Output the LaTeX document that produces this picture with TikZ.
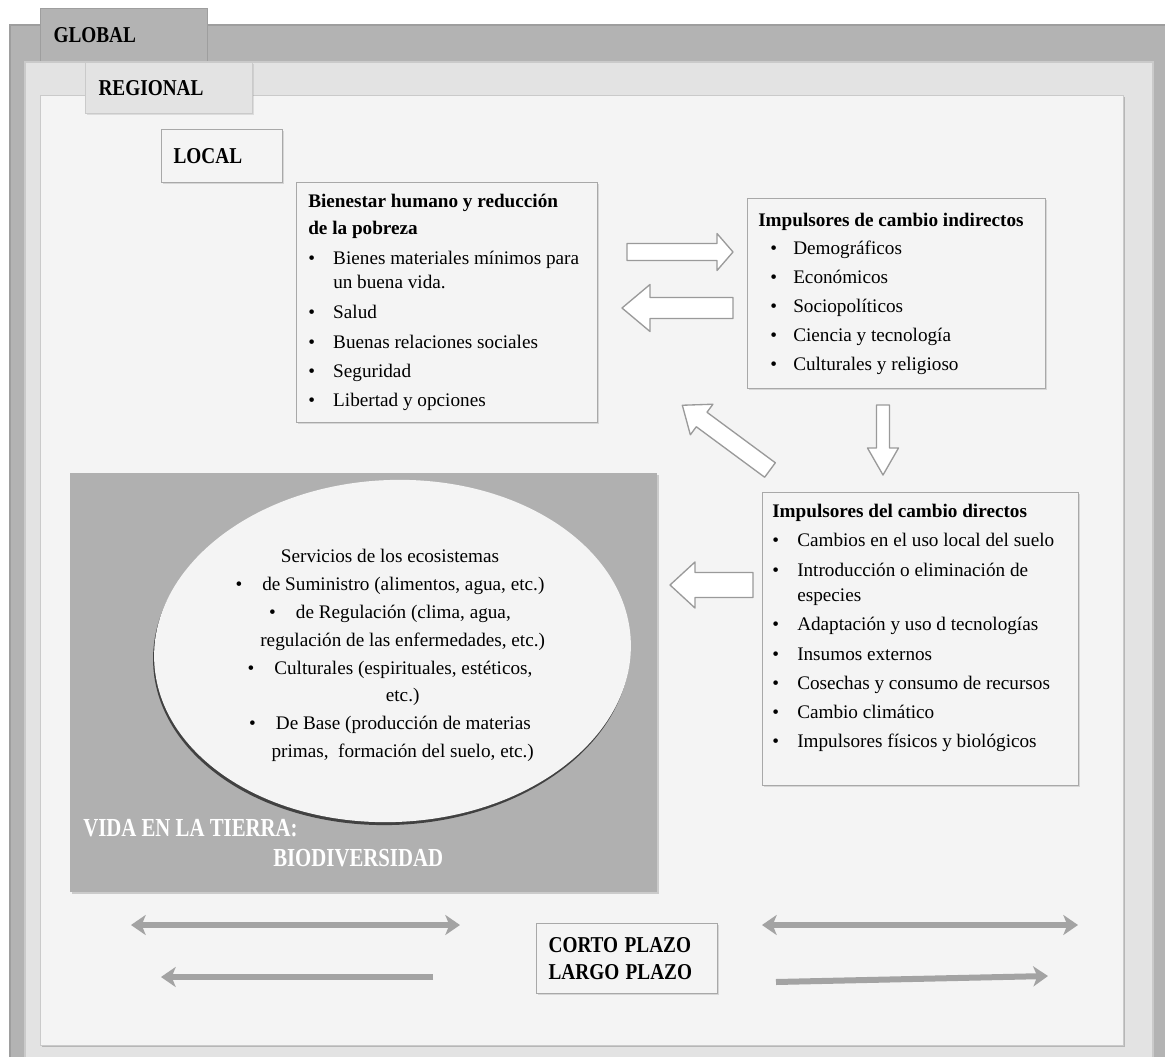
\documentclass[tikz,border=0pt]{standalone}
\usepackage{fontspec}
\setmainfont{Liberation Serif}
\usepackage{graphicx}
\usetikzlibrary{shapes.geometric,arrows.meta,shadows}

\definecolor{outerg}{HTML}{B3B3B3}
\definecolor{outeredge}{HTML}{9E9E9E}
\definecolor{regg}{HTML}{E3E3E3}
\definecolor{regedge}{HTML}{CACACA}
\definecolor{innerg}{HTML}{F4F4F4}
\definecolor{boxedge}{HTML}{A8A8A8}
\definecolor{biog}{HTML}{B0B0B0}
\definecolor{arrg}{HTML}{A3A3A3}
\definecolor{barredge}{HTML}{9A9A9A}

\newcommand{\bul}{\makebox[18.75pt][l]{\textbullet}}
\newcommand{\cnd}[1]{\scalebox{0.85}[1]{#1}}

\tikzset{
  box/.style={draw=boxedge, line width=0.9pt, fill=innerg,
    drop shadow={shadow xshift=1.2pt, shadow yshift=-1.2pt, opacity=0.25}},
  wh/.style 2 args={minimum width=#1*0.75pt, minimum height=#2*0.75pt,
    inner sep=0pt, anchor=north west},
  txt/.style={anchor=north west, inner sep=0pt, align=left,
    font=\fontsize{14.4pt}{18.75pt}\selectfont},
  tabfont/.style={font=\fontsize{17pt}{20.25pt}\selectfont\bfseries, align=left},
  barr/.style={draw=barredge, line width=1pt, fill=white, line join=round},
  thinarrow/.style={draw=arrg, line width=4.5pt,
    >={Stealth[length=11pt,width=15pt,inset=3pt]}},
  pics/barrow/.style args={#1/#2/#3/#4}{code={
    \path[barr] (0,-#2) -- ({#1-#4},-#2) -- ({#1-#4},-#3) -- (#1,0)
      -- ({#1-#4},#3) -- ({#1-#4},#2) -- (0,#2) -- cycle;
  }},
}

\begin{document}
\begin{tikzpicture}[x=0.75pt,y=-0.75pt]
\useasboundingbox (0,0) rectangle (1165,1057);
\clip (0,0) rectangle (1165,1057);
\fill[white] (0,0) rectangle (1165,1057);

% frames
\path[fill=outerg, draw=outeredge, line width=0.8pt] (10,25) rectangle (1185,1090);
\node[wh={167}{54}, fill=outerg, draw=outeredge, line width=0.8pt,
  inner xsep=9.75pt, text width=105.75pt, tabfont] (global) at (40,8) {\cnd{GLOBAL}};
\path[fill=regg, draw=regedge, line width=0.8pt] (25,62) rectangle (1153,1090);
\path[fill=innerg, draw=regedge, line width=0.6pt,
  drop shadow={shadow xshift=1.2pt, shadow yshift=-1.5pt, opacity=0.45}] (40,95) rectangle (1123,1045);
\node[wh={167}{51}, fill=regg, draw=regedge, line width=0.8pt,
  drop shadow={shadow xshift=0.8pt, shadow yshift=-1pt, opacity=0.2},
  inner xsep=9.75pt, text width=105.75pt, tabfont] (regional) at (85,62) {\cnd{REGIONAL}};
\node[wh={121}{53}, box, inner xsep=9pt, text width=72.75pt, tabfont] (local) at (161,129) {\cnd{LOCAL}};

% Bienestar box
\node[wh={301}{240}, box] (bien) at (296,182) {};
\node[txt] (bientxt) at (308,194) {%
\textbf{Bienestar humano y reducción}\\[1.5pt]
\textbf{de la pobreza}\\[3.75pt]
\bul Bienes materiales mínimos para\\[-0.5pt]
\hspace*{18.75pt}un buena vida.\\[3.75pt]
\bul Salud\\[3.25pt]
\bul Buenas relaciones sociales\\[3.25pt]
\bul Seguridad\\[3.25pt]
\bul Libertad y opciones};

% Indirectos box
\node[wh={298}{190}, box] (ind) at (747,198) {};
\node[txt] (indtxt) at (758,213) {%
\textbf{Impulsores de cambio indirectos}\\[2.25pt]
\hspace*{9pt}\makebox[17.25pt][l]{\textbullet}Demográficos\\[3pt]
\hspace*{9pt}\makebox[17.25pt][l]{\textbullet}Económicos\\[3pt]
\hspace*{9pt}\makebox[17.25pt][l]{\textbullet}Sociopolíticos\\[3pt]
\hspace*{9pt}\makebox[17.25pt][l]{\textbullet}Ciencia y tecnología\\[3pt]
\hspace*{9pt}\makebox[17.25pt][l]{\textbullet}Culturales y religioso};

% Directos box
\node[wh={316}{293}, box] (dir) at (762,492) {};
\node[txt] (dirtxt) at (772,504) {%
\textbf{Impulsores del cambio directos}\\[3pt]
\bul Cambios en el uso local del suelo\\[3.75pt]
\bul Introducción o eliminación de\\
\hspace*{18.75pt}especies\\[3pt]
\bul Adaptación y uso d tecnologías\\[3.5pt]
\bul Insumos externos\\[3.5pt]
\bul Cosechas y consumo de recursos\\[3pt]
\bul Cambio climático\\[3pt]
\bul Impulsores físicos y biológicos};

% Biodiversity block
\node[wh={587}{419}, fill=biog,
  drop shadow={shadow xshift=1pt, shadow yshift=-1.5pt, opacity=0.35}] (bio) at (70,473) {};
\node[ellipse, draw=none, fill=innerg, minimum width=357.75pt, minimum height=256.5pt,
  inner sep=0pt, rotate=2.5,
  drop shadow={shadow xshift=-0.8pt, shadow yshift=-2.2pt, opacity=0.8, fill=black!85}] (eco) at (392.5,651) {};
\node[anchor=north, inner sep=0pt, align=center,
  font=\fontsize{14.4pt}{20.9pt}\selectfont] (ecotxt) at (390,549) {%
Servicios de los ecosistemas\\
\textbullet\hspace{15pt}de Suministro (alimentos, agua, etc.)\\
\textbullet\hspace{15pt}de Regulación (clima, agua,\\
\hspace*{19pt}regulación de las enfermedades, etc.)\\
\textbullet\hspace{15pt}Culturales (espirituales, estéticos,\\
\hspace*{19pt}etc.)\\
\textbullet\hspace{15pt}De Base (producción de materias\\
\hspace*{19pt}primas,\ \ formación del suelo, etc.)};
\node[anchor=north west, inner sep=0pt, text=white,
  font=\fontsize{19.5pt}{20pt}\selectfont\bfseries] (vida) at (83,819) {\scalebox{0.8}[1]{VIDA EN LA TIERRA:}};
\node[anchor=north west, inner sep=0pt, text=white,
  font=\fontsize{19.5pt}{20pt}\selectfont\bfseries] (biodiv) at (273,849) {\scalebox{0.8}[1]{BIODIVERSIDAD}};

% Time box
\node[wh={181}{70}, box, inner xsep=9pt, text width=117.75pt, tabfont] (plazo) at (536,923)
  {\cnd{CORTO PLAZO}\\\cnd{LARGO PLAZO}};

% block arrows
\coordinate (ar1s) at (627,252);
\coordinate (ar2s) at (733,308);
\coordinate (ar3s) at (883,405);
\coordinate (ar4s) at (770,470);
\coordinate (ar5s) at (753,585);
\pic (ar1) at (ar1s) {barrow=106/8.5/18.5/16};
\pic[rotate=180] (ar2) at (ar2s) {barrow=111/10.5/23.5/28};
\pic[rotate=-90] (ar3) at (ar3s) {barrow=70/6.5/15.5/27};
\pic[rotate=143.55] (ar4) at (ar4s) {barrow=109/9/19/24};
\pic[rotate=180] (ar5) at (ar5s) {barrow=83/12.5/23/25};

% thin arrows
\coordinate (t1a) at (131,925);
\coordinate (t1b) at (460,925);
\coordinate (t2a) at (161,977);
\coordinate (t2b) at (433,977);
\coordinate (t3a) at (762,925);
\coordinate (t3b) at (1078,925);
\coordinate (t4a) at (776,982);
\coordinate (t4b) at (1048,976);
\draw[thinarrow, <->] (t1a) -- (t1b);
\draw[thinarrow, ->] (t2b) -- (t2a);
\draw[thinarrow, <->] (t3a) -- (t3b);
\draw[thinarrow, ->] (t4a) -- (t4b);
\end{tikzpicture}
\end{document}
